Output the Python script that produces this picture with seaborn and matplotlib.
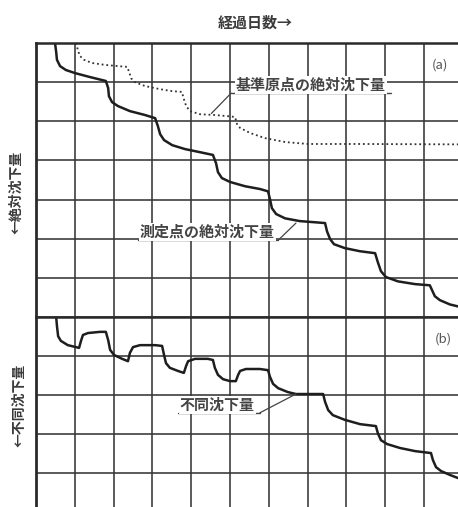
import matplotlib
matplotlib.use("Agg")
import matplotlib.pyplot as plt
import seaborn as sns
import pandas as pd

# Datos (unidades = celdas de la cuadrícula, y hacia abajo)
# Curva (a): asiento absoluto del punto de medición
medido_x = [0.49, 0.52, 0.54, 0.62, 0.77, 1.01, 1.39, 1.80, 1.86, 1.88, 1.96, 2.11,
            2.42, 2.81, 3.07, 3.14, 3.20, 3.30, 3.51, 3.84, 4.23, 4.56, 4.64, 4.69,
            4.79, 5.00, 5.39, 5.77, 5.98, 6.03, 6.08, 6.19, 6.42, 6.80, 7.19, 7.45,
            7.50, 7.58, 7.68, 7.96, 8.35, 8.74, 8.81, 8.89, 9.02, 9.33, 9.77, 10.15,
            10.21, 10.28, 10.41, 10.67, 10.88]
medido_y = [0.00, 0.23, 0.43, 0.59, 0.69, 0.77, 0.87, 0.97, 1.15, 1.36, 1.51, 1.61,
            1.74, 1.84, 1.92, 2.12, 2.33, 2.48, 2.61, 2.71, 2.79, 2.86, 3.07, 3.30,
            3.45, 3.55, 3.66, 3.73, 3.79, 3.99, 4.22, 4.37, 4.48, 4.55, 4.58, 4.60,
            4.81, 5.01, 5.14, 5.24, 5.32, 5.37, 5.60, 5.83, 5.98, 6.09, 6.16, 6.19,
            6.32, 6.47, 6.57, 6.68, 6.73]

# Curva (a): asiento absoluto del punto de referencia (punteada)
base_x = [1.03, 1.08, 1.13, 1.24, 1.44, 1.78, 2.11, 2.35, 2.40, 2.45, 2.55, 2.81,
          3.20, 3.51, 3.76, 3.81, 3.87, 3.97, 4.23, 4.61, 4.95, 5.13, 5.18, 5.26,
          5.52, 5.90, 6.42, 7.01, 8.35, 10.88]
base_y = [0.00, 0.18, 0.33, 0.43, 0.51, 0.56, 0.59, 0.61, 0.74, 0.90, 1.00, 1.10,
          1.18, 1.23, 1.25, 1.43, 1.61, 1.74, 1.82, 1.84, 1.87, 1.89, 2.07, 2.17,
          2.30, 2.43, 2.53, 2.58, 2.58, 2.59]

# Curva (b): asiento diferencial
dif_x = [0.52, 0.54, 0.57, 0.64, 0.82, 1.11, 1.16, 1.21, 1.34, 1.65, 1.80, 1.86,
         1.91, 2.01, 2.22, 2.37, 2.42, 2.50, 2.68, 3.07, 3.25, 3.30, 3.35, 3.45,
         3.66, 3.81, 3.87, 3.92, 4.10, 4.43, 4.56, 4.61, 4.69, 4.82, 5.00, 5.15,
         5.21, 5.26, 5.41, 5.77, 5.98, 6.03, 6.11, 6.24, 6.49, 6.70, 7.06, 7.40,
         7.45, 7.53, 7.65, 7.96, 8.35, 8.76, 8.81, 8.89, 9.05, 9.38, 9.77, 10.18,
         10.23, 10.31, 10.44, 10.67, 10.88]
dif_y = [0.00, 0.23, 0.49, 0.61, 0.72, 0.79, 0.61, 0.46, 0.41, 0.38, 0.38, 0.59,
         0.84, 0.97, 1.07, 1.13, 0.92, 0.77, 0.72, 0.72, 0.74, 0.97, 1.18, 1.30,
         1.38, 1.43, 1.25, 1.13, 1.07, 1.07, 1.10, 1.30, 1.48, 1.59, 1.64, 1.64,
         1.48, 1.38, 1.33, 1.33, 1.36, 1.53, 1.71, 1.82, 1.92, 1.97, 1.97, 1.97,
         2.17, 2.38, 2.51, 2.63, 2.74, 2.79, 2.97, 3.15, 3.25, 3.35, 3.43, 3.48,
         3.66, 3.84, 3.94, 4.04, 4.12]

titulo = "経過日数→"
etiqueta_a = "←絶対沈下量"
etiqueta_b = "←不同沈下量"
texto_medido = "測定点の絶対沈下量"
texto_base = "基準原点の絶対沈下量"
texto_dif = "不同沈下量"

sns.set_style("white")
plt.rcParams["font.family"] = ["Noto Sans CJK JP", "DejaVu Sans"]

W, H = 458, 507
fig = plt.figure(figsize=(W / 100, H / 100), dpi=100)
ax1 = fig.add_axes([36 / W, 1 - 317 / H, 1 - 36 / W, 274 / H])
ax2 = fig.add_axes([36 / W, 0, 1 - 36 / W, 190 / H])

linea = "#2a2a2a"
for ax, ymax in [(ax1, 7), (ax2, 190 / 39.1)]:
    ax.set_xlim(0, 422 / 38.8)
    ax.set_ylim(ymax, 0)
    ax.set_xticks(range(0, 11))
    ax.set_yticks(range(0, int(ymax) + 1))
    ax.grid(True, color="#363636", lw=1.15)
    ax.tick_params(length=0, labelleft=False, labelbottom=False)
    for s in ["right", "bottom"]:
        ax.spines[s].set_visible(False)
    ax.spines["left"].set_linewidth(2.0)
    ax.spines["top"].set_linewidth(1.8)
    for s in ax.spines.values():
        s.set_color(linea)

df_medido = pd.DataFrame({"x": medido_x, "y": medido_y})
df_base = pd.DataFrame({"x": base_x, "y": base_y})
df_dif = pd.DataFrame({"x": dif_x, "y": dif_y})

sns.lineplot(data=df_medido, x="x", y="y", ax=ax1, sort=False, estimator=None,
             color="#1e1e1e", lw=1.8)
sns.lineplot(data=df_base, x="x", y="y", ax=ax1, sort=False, estimator=None,
             color="#333333", lw=1.3, linestyle=(0, (1, 1.6)))
sns.lineplot(data=df_dif, x="x", y="y", ax=ax2, sort=False, estimator=None,
             color="#1e1e1e", lw=1.8)
for ax in (ax1, ax2):
    ax.set_xlabel("")
    ax.set_ylabel("")

caja = dict(facecolor="white", edgecolor="none", pad=0.5)
gris = "#444444"

# etiqueta punto de referencia
ax1.text(5.15, 1.07, texto_base, fontsize=10.8, color=gris, va="center", ha="left",
         fontweight="bold", bbox=caja)
ax1.plot([5.03, 9.15], [1.28, 1.28], color=gris, lw=1.0)
ax1.plot([5.03, 4.52], [1.28, 1.80], color=gris, lw=0.9)

# etiqueta punto de medición
ax1.text(2.68, 4.83, texto_medido, fontsize=10.8, color=gris, va="center", ha="left",
         fontweight="bold", bbox=caja)
ax1.plot([2.63, 6.24], [5.04, 5.04], color=gris, lw=1.0)
ax1.plot([6.24, 6.70], [5.04, 4.60], color=gris, lw=0.9)

# etiqueta diferencial
ax2.text(3.71, 2.25, texto_dif, fontsize=10.8, color=gris, va="center", ha="left",
         fontweight="bold", bbox=caja)
ax2.plot([3.66, 5.77], [2.45, 2.45], color=gris, lw=1.0)
ax2.plot([5.77, 6.70], [2.45, 1.97], color=gris, lw=0.9)

ax1.text(10.41, 0.56, "(a)", fontsize=9.5, color="#555555", ha="center", va="center")
ax2.text(10.49, 0.56, "(b)", fontsize=9.5, color="#555555", ha="center", va="center")

fig.text(255 / W, 1 - 23 / H, titulo, fontsize=10.8, color="#3a3a3a", ha="center",
         va="center", fontweight="bold")
fig.text(16 / W, 1 - 192 / H, etiqueta_a, fontsize=10, color="#3a3a3a", rotation=90,
         ha="center", va="center", fontweight="bold")
fig.text(19 / W, 1 - 405 / H, etiqueta_b, fontsize=10, color="#3a3a3a", rotation=90,
         ha="center", va="center", fontweight="bold")

fig.savefig("out.png", dpi=100)
plt.close(fig)
